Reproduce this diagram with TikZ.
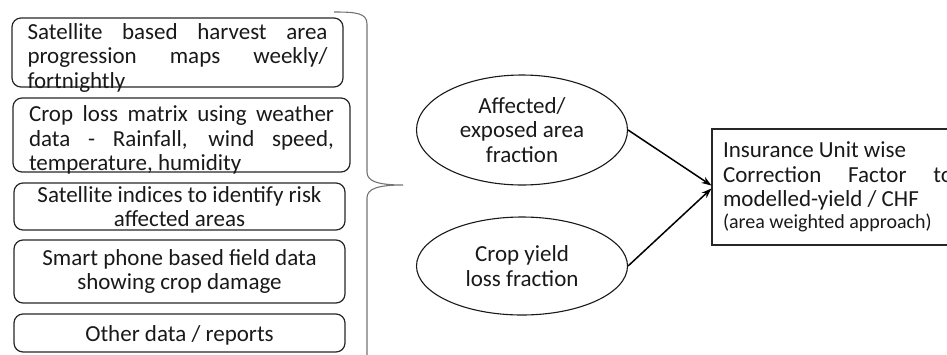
\documentclass[tikz,border=0pt]{standalone}
\usepackage{fontspec}
\setmainfont{Carlito}
\usetikzlibrary{shapes.geometric,arrows.meta}

% one justified line, spaces stretched to the full width
\newcommand\jline[1]{\makebox[\linewidth][s]{#1}}

\tikzset{
  srcbox/.style={draw=black!85, line width=1.2pt, rounded corners=9pt, inner sep=0pt},
  oval/.style={ellipse, draw=black!90, line width=1.1pt, inner sep=0pt, align=center},
  outbox/.style={draw=black!85, line width=1.1pt, inner sep=0pt},
  arr/.style={-{Stealth[length=10pt,width=7pt]}, line width=1.5pt},
  bracket/.style={draw=black!55, line width=1.1pt},
}

\begin{document}
\begin{tikzpicture}[x=1pt, y=-1pt,
  every node/.style={font=\fontsize{23}{24.5}\selectfont, text=black!90}]
\useasboundingbox (0,0) rectangle (947,354);
\clip (0,0) rectangle (947,354);

% input data sources
\node[srcbox, minimum width=331pt, minimum height=69pt] (s1) at (177.5,52.5)
  {\parbox[c][69pt][c]{300pt}{\vspace*{10pt}\jline{Satellite based harvest area}\\
   \jline{progression maps weekly/}\\ fortnightly}};
\node[srcbox, minimum width=337pt, minimum height=74pt] (s2) at (181.5,135)
  {\parbox[c][74pt][c]{305pt}{\vspace*{10pt}\jline{Crop loss matrix using weather}\\
   \jline{data - Rainfall, wind speed,}\\ temperature, humidity}};
\node[srcbox, minimum width=331pt, minimum height=47pt] (s3) at (179.5,206.5)
  {\parbox[c][47pt][c]{320pt}{\centering Satellite indices to identify risk\\ affected areas}};
\node[srcbox, minimum width=331pt, minimum height=63pt] (s4) at (179.5,271.5)
  {\parbox[c][63pt][c]{320pt}{\centering Smart phone based field data\\ showing crop damage}};
\node[srcbox, minimum width=331pt, minimum height=38pt] (s5) at (179.5,333)
  {\parbox[c][38pt][c]{320pt}{\centering\vspace*{4pt}Other data / reports}};

% brace gathering the sources
\draw[bracket] (334,12) .. controls (356,12) and (367,13) .. (367,24)
  -- (367,172) .. controls (367,181) and (377,185) .. (403,185)
  .. controls (377,185) and (367,189) .. (367,198) -- (367,362);

% derived fractions
\node[oval, minimum width=211pt, minimum height=110pt] (e1) at (522,130)
  {Affected/\\ exposed area\\ fraction};
\node[oval, minimum width=211pt, minimum height=98pt] (e2) at (522,266)
  {Crop yield\\ loss fraction};

% resulting correction factor
\node[outbox, minimum width=252pt, minimum height=116pt] (cf) at (838,187)
  {\parbox[c][116pt][c]{230pt}{Insurance Unit wise\\
   \jline{Correction Factor to}\\ modelled-yield / CHF\\[-3pt]
   {\fontsize{20}{21}\selectfont (area weighted approach)}}};

\draw[arr] (e1.east) -- ([yshift=1.5pt]cf.west);
\draw[arr] (e2.east) -- ([yshift=-1.5pt]cf.west);
\end{tikzpicture}
\end{document}
